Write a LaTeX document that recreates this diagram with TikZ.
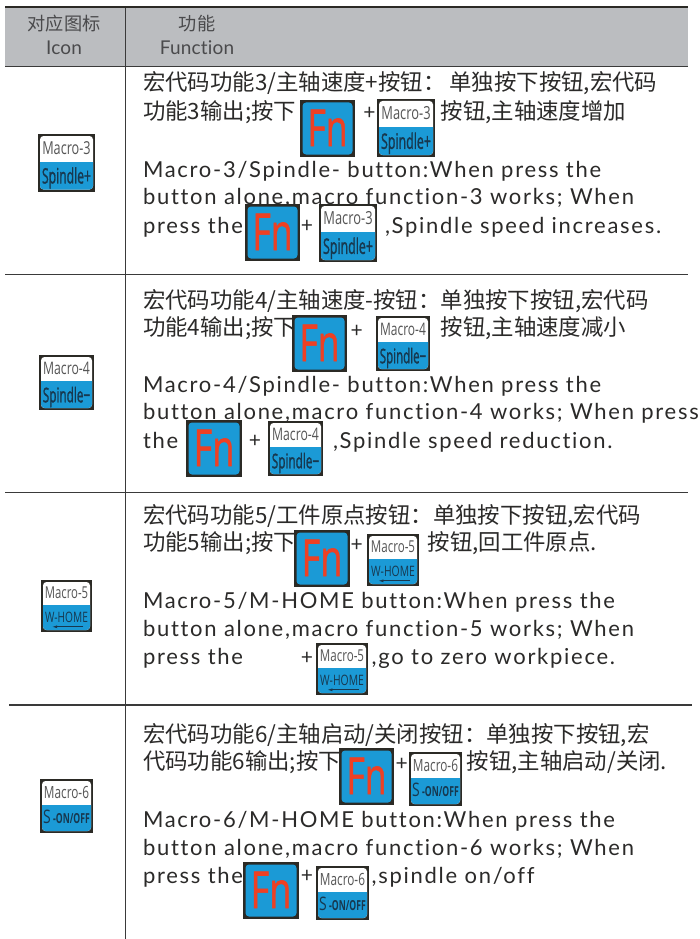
\documentclass[tikz,border=0pt]{standalone}
\usepackage{fontspec}
\usepackage{graphicx}
\usetikzlibrary{arrows.meta}
\setmainfont{Open Sans}
\newfontfamily\cjk{Noto Sans CJK SC}
\newfontfamily\entext[LetterSpace=7.8,Ligatures=NoCommon]{Lato}
\newfontfamily\hdfont[LetterSpace=1,Ligatures=NoCommon]{Lato}
\newfontfamily\keyheavy[FakeBold=1.6]{Open Sans}
\newfontfamily\fnface[FakeBold=1.2]{Open Sans}
\definecolor{ink}{HTML}{2B2A29}
\definecolor{headgray}{HTML}{BBBDC0}
\definecolor{headink}{HTML}{4A4A4C}
\definecolor{rule}{HTML}{3A3A3A}
\definecolor{keyedge}{HTML}{2B2A25}
\definecolor{keyblue}{HTML}{1B9AD6}
\definecolor{fnred}{HTML}{EE4023}
\definecolor{toplabel}{HTML}{555555}
\definecolor{botlabel}{HTML}{17384F}
\tikzset{
  entxt/.style={anchor=base west,inner sep=0,outer sep=0,text=ink,font=\entext\fontsize{22}{22}\selectfont},
  cntxt/.style={anchor=base west,inner sep=0,outer sep=0,text=ink,font=\cjk\fontsize{22.4}{22.4}\selectfont},
  plussign/.style={anchor=base,inner sep=0,outer sep=0,text=ink,font=\hdfont\fontsize{21}{21}\selectfont},
  hdcn/.style={anchor=base,inner sep=0,outer sep=0,text=headink,font=\cjk\fontsize{18.2}{18.2}\selectfont},
  hden/.style={anchor=base,inner sep=0,outer sep=0,text=headink,font=\hdfont\fontsize{19}{19}\selectfont},
  keytext/.style={anchor=base,inner sep=0,outer sep=0,font=\fontsize{18}{18}\selectfont},
  rulethin/.style={draw=rule,line width=1.2pt},
}
% #1 name, #2 x0, #3 y0, #4 x1, #5 y1
\newcommand\fnkey[5]{%
  \pgfmathsetmacro\kw{#4-(#2)}\pgfmathsetmacro\kh{#5-(#3)}%
  \fill[keyedge] (#2,#3) rectangle (#4,#5);
  \fill[keyblue,rounded corners=3.5pt] (#2+2.5,#3+2.5) rectangle (#4-2.5,#5-2.5);
  \node[keytext,text=fnred] (#1) at ({(#2+#4)/2},{#3+0.81*\kh})
    {\resizebox{0.73\dimexpr\kw pt\relax}{0.64\dimexpr\kh pt\relax}{\fnface Fn}};
}
\newcommand\keybase[6]{%
  \pgfmathsetmacro\kw{#4-(#2)}\pgfmathsetmacro\kh{#5-(#3)}%
  \fill[keyedge] (#2,#3) rectangle (#4,#5);
  \begin{scope}
    \clip[rounded corners=3.5pt] (#2+2,#3+2) rectangle (#4-2,#5-2);
    \fill[white] (#2,#3) rectangle (#4,#5);
    \fill[keyblue] (#2,{#3+0.48*\kh}) rectangle (#4,#5);
  \end{scope}
  \node[keytext,text=toplabel] (#1) at ({(#2+#4)/2},{#3+0.355*\kh})
    {\resizebox{0.85\dimexpr\kw pt\relax}{0.225\dimexpr\kh pt\relax}{#6}};
}
\newcommand\spkey[7]{%
  \keybase{#1}{#2}{#3}{#4}{#5}{#6}
  \node[keytext,text=botlabel] (#1b) at ({(#2+#4)/2},{#3+0.86*\kh})
    {\resizebox{0.86\dimexpr\kw pt\relax}{0.28\dimexpr\kh pt\relax}{\keyheavy #7}};
}
\newcommand\homekey[6]{%
  \keybase{#1}{#2}{#3}{#4}{#5}{#6}
  \node[keytext,text=botlabel] (#1b) at ({(#2+#4)/2},{#3+0.825*\kh})
    {\resizebox{0.84\dimexpr\kw pt\relax}{0.2\dimexpr\kh pt\relax}{W-HOME}};
  \coordinate (#1r) at ({#2+0.83*\kw},{#3+0.90*\kh});
  \coordinate (#1l) at ({#2+0.22*\kw},{#3+0.90*\kh});
  \draw[botlabel,line width=0.7pt,-{Latex[length=5pt,width=3pt]}] (#1r) -- (#1l);
}
\newcommand\onoffkey[6]{%
  \keybase{#1}{#2}{#3}{#4}{#5}{#6}
  \node[keytext,text=botlabel] (#1b) at ({(#2+#4)/2},{#3+0.83*\kh})
    {\resizebox{0.88\dimexpr\kw pt\relax}{0.25\dimexpr\kh pt\relax}{S\,\scalebox{0.62}[0.74]{\bfseries -ON/OFF}}};
}
\begin{document}
\begin{tikzpicture}[x=1pt,y=-1pt]
\useasboundingbox (0,0) rectangle (700,939);
\fill[white] (0,0) rectangle (700,939);
% table
\fill[headgray] (5,8) rectangle (688,66);
\coordinate (topl) at (5,7); \coordinate (topr) at (688,7);
\draw[keyedge,line width=2.4pt] (topl) -- (topr);
\coordinate (a1) at (5,66.5); \coordinate (a2) at (688,66.5);
\coordinate (b1) at (5,274.3); \coordinate (b2) at (688,274.3);
\coordinate (c1) at (5,492.7); \coordinate (c2) at (688,492.7);
\coordinate (d1) at (9,705); \coordinate (d2) at (692,705);
\coordinate (v1) at (125.7,8); \coordinate (v2) at (125.7,939);
\draw[rulethin] (a1) -- (a2);
\draw[rulethin] (b1) -- (b2);
\draw[rulethin] (c1) -- (c2);
\draw[rulethin] (d1) -- (d2);
\draw[rulethin] (v1) -- (v2);
% header
\node[hdcn] (h1) at (64,31) {对应图标};
\node[hden] (h2) at (64,55) {Icon};
\node[hdcn] (h3) at (197,31) {功能};
\node[hden] (h4) at (197,54.5) {Function};
% row 1
\node[cntxt] (r1a) at (143,91) {宏代码功能3/主轴速度+按钮：\hspace{4pt}单独按下按钮,宏代码};
\node[cntxt] (r1b) at (143,119.5) {功能3输出;按下};
\node[plussign] (r1p) at (369.5,120) {+};
\node[cntxt] (r1c) at (440.7,119.5) {按钮,主轴速度增加};
\node[entxt] (r1d) at (143,177.3) {Macro-3/Spindle- button:When press the};
\node[entxt] (r1e) at (143,204.8) {button alone,macro function-3 works; When};
\node[entxt] (r1f) at (143,233) {press the};
\node[plussign] (r1q) at (307,232.7) {+};
\node[entxt] (r1g) at (385,233) {,Spindle speed increases.};
% row 2
\node[cntxt] (r2a) at (143,308) {宏代码功能4/主轴速度-按钮：单独按下按钮,宏代码};
\node[cntxt] (r2b) at (143,335.5) {功能4输出;按下};
\node[plussign] (r2p) at (356.7,337) {+};
\node[cntxt] (r2c) at (440.7,335.5) {按钮,主轴速度减小};
\node[entxt] (r2d) at (143,392) {Macro-4/Spindle- button:When press the};
\node[entxt] (r2e) at (143,419.3) {button alone,macro function-4 works; When press};
\node[entxt] (r2f) at (143,448) {the};
\node[plussign] (r2q) at (255,447.7) {+};
\node[entxt] (r2g) at (333,448) {,Spindle speed reduction.};
% row 3
\node[cntxt] (r3a) at (143,523) {宏代码功能5/工件原点按钮：单独按下按钮,宏代码};
\node[cntxt] (r3b) at (143,550) {功能5输出;按下};
\node[plussign] (r3p) at (356.7,551) {+};
\node[cntxt] (r3c) at (427.7,550) {按钮,回工件原点.};
\node[entxt] (r3d) at (143,608.3) {Macro-5/M-HOME button:When press the};
\node[entxt] (r3e) at (143,636.3) {button alone,macro function-5 works; When};
\node[entxt] (r3f) at (143,664.3) {press the};
\node[plussign] (r3q) at (307,664) {+};
\node[entxt] (r3g) at (371.7,664.3) {,go to zero workpiece.};
% row 4
\node[cntxt] (r4a) at (143,742) {宏代码功能6/主轴启动/关闭按钮：单独按下按钮,宏};
\node[cntxt] (r4b) at (143,769) {代码功能6输出;按下};
\node[plussign] (r4p) at (401.7,770) {+};
\node[cntxt] (r4c) at (466.7,769) {按钮,主轴启动/关闭.};
\node[entxt] (r4d) at (143,827) {Macro-6/M-HOME button:When press the};
\node[entxt] (r4e) at (143,855.3) {button alone,macro function-6 works; When};
\node[entxt] (r4f) at (143,883) {press the};
\node[plussign] (r4q) at (307,882.7) {+};
\node[entxt] (r4g) at (371.7,883) {,spindle on/off};
% keys
\spkey{i3}{38}{134}{95}{191.5}{Macro-3}{Spindle+}
\fnkey{f3a}{300}{100}{355}{157}
\spkey{k3a}{377}{99}{435}{157}{Macro-3}{Spindle+}
\fnkey{f3b}{245}{204}{300}{261}
\spkey{k3b}{319}{204}{377}{262}{Macro-3}{Spindle+}
\spkey{i4}{39}{355}{94}{410}{Macro-4}{Spindle−}
\fnkey{f4a}{292}{315}{347}{372}
\spkey{k4a}{376}{316}{430}{371}{Macro-4}{Spindle−}
\fnkey{f4b}{186}{420}{242}{477}
\spkey{k4b}{268}{421}{323}{476}{Macro-4}{Spindle−}
\homekey{i5}{41}{580}{92}{632}{Macro-5}
\fnkey{f5a}{294}{530}{350}{587}
\homekey{k5a}{367}{534}{419}{586}{Macro-5}
\homekey{k5b}{316}{643}{368}{695}{Macro-5}
\onoffkey{i6}{40}{779}{93}{833}{Macro-6}
\fnkey{f6a}{339}{748}{394}{805}
\onoffkey{k6a}{409}{752}{462}{806}{Macro-6}
\fnkey{f6b}{243}{862}{299}{919}
\onoffkey{k6b}{316}{866}{369}{920}{Macro-6}
\end{tikzpicture}
\end{document}
